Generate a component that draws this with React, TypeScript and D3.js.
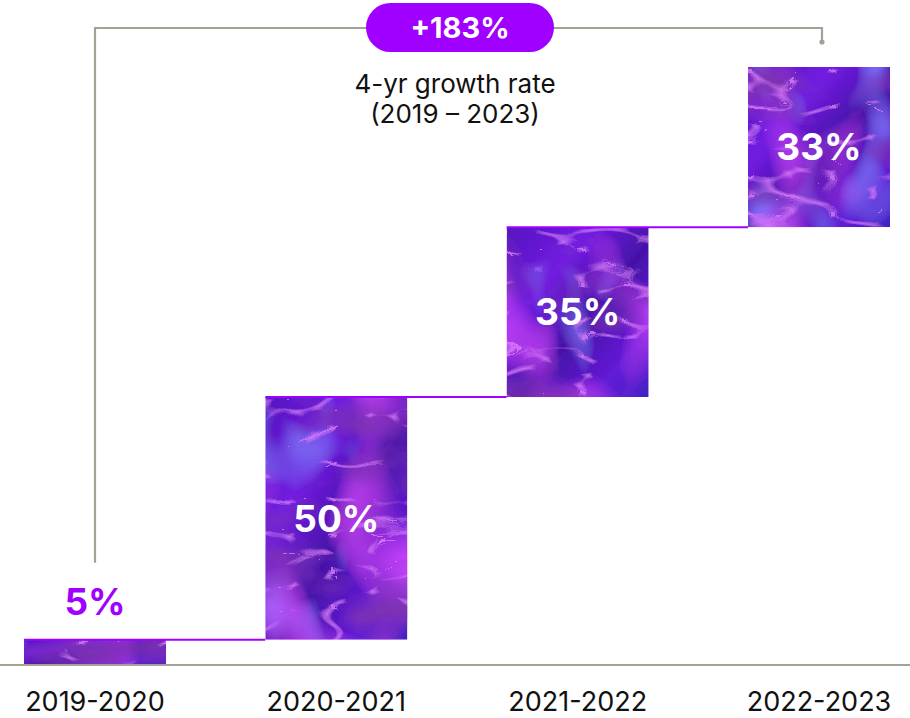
import * as d3 from 'd3';
import React from 'react';

const periods = ['2019-2020', '2020-2021', '2021-2022', '2022-2023'];
const growth = [5, 50, 35, 33];
const growthLabels = ['5%', '50%', '35%', '33%'];
const totalLabel = '+183%';
const noteLines = ['4-yr growth rate', '(2019 – 2023)'];

const W = 910;
const H = 718;
const baseY = 664;
const topY = 67;
const purple = '#a000ff';
const grey = '#a2a297';
const font = 'Inter, "Noto Sans", sans-serif';

const App: React.FC = () => {
  // running totals for the waterfall
  const ends = d3.cumsum(growth);
  const starts = ends.map((e, i) => e - growth[i]);

  const x = d3.scaleBand<string>()
    .domain(periods)
    .range([24, 890])
    .paddingInner(0.4115)
    .paddingOuter(0);

  const y = d3.scaleLinear()
    .domain([0, d3.sum(growth)])
    .range([baseY, topY]);

  const bw = x.bandwidth();
  const cx = (i: number) => (x(periods[i]) as number) + bw / 2;

  const leftX = cx(0);
  const rightX = cx(periods.length - 1) + 3;
  const bracketY = 28;
  const bracketBottom = y(ends[0]) - 77;

  const connectors = growth.slice(0, -1).map((_, i) => ({
    x1: x(periods[i]) as number,
    x2: x(periods[i + 1]) as number,
    y: y(ends[i]),
  }));

  return (
    <svg width={W} height={H} style={{ position: 'absolute', left: 0, top: 0 }}>
      <defs>
        <linearGradient id="silkBase" x1="0" y1="0" x2="1" y2="1">
          <stop offset="0" stopColor="#5414c0" />
          <stop offset="0.3" stopColor="#721ce0" />
          <stop offset="0.55" stopColor="#4511a8" />
          <stop offset="0.8" stopColor="#631ad6" />
          <stop offset="1" stopColor="#3f22c4" />
        </linearGradient>
        <filter id="silk" x="0" y="0" width="1" height="1">
          <feTurbulence type="fractalNoise" baseFrequency="0.009 0.016" numOctaves="3" seed="7" result="n" />
          <feColorMatrix in="n" type="matrix"
            values="0 0 0 0 0.2  0 0 0 0 0.03  0 0 0 0 0.45  -3.4 0 0 0 1.7" result="shade" />
          <feTurbulence type="fractalNoise" baseFrequency="0.012 0.008" numOctaves="2" seed="19" result="g" />
          <feColorMatrix in="g" type="matrix"
            values="0 0 0 0 0.64  0 0 0 0 0.06  0 0 0 0 1  3 0 0 0 -1.5" result="glow" />
          <feTurbulence type="turbulence" baseFrequency="0.012 0.028" numOctaves="2" seed="3" result="t" />
          <feColorMatrix in="t" type="matrix"
            values="0 0 0 0 0.72  0 0 0 0 0.2  0 0 0 0 1  -7 0 0 0 0.7" result="veins" />
          <feTurbulence type="fractalNoise" baseFrequency="0.02 0.012" numOctaves="2" seed="11" result="b" />
          <feColorMatrix in="b" type="matrix"
            values="0 0 0 0 0.2  0 0 0 0 0.14  0 0 0 0 0.9  0 0 -3.5 0 1.5" result="blue" />
          <feMerge result="m">
            <feMergeNode in="SourceGraphic" />
            <feMergeNode in="blue" />
            <feMergeNode in="glow" />
            <feMergeNode in="shade" />
            <feMergeNode in="veins" />
          </feMerge>
          <feComposite in="m" in2="SourceAlpha" operator="in" />
        </filter>
      </defs>

      {/* bracket for the total */}
      <path
        d={`M${leftX},${bracketBottom}V${bracketY}H${rightX}V${bracketY + 13}`}
        fill="none"
        stroke={grey}
        strokeWidth={2.2}
      />
      <circle cx={rightX} cy={bracketY + 14} r={2.6} fill={grey} />
      <rect x={366} y={3} width={188} height={49} rx={24.5} fill={purple} />
      <text x={460} y={38} textAnchor="middle" fill="#fff" fontFamily={font}
        fontWeight={700} fontSize={29}>{totalLabel}</text>
      {noteLines.map((t, i) => (
        <text key={t} x={455} y={93 + i * 30} textAnchor="middle" fill="#111"
          fontFamily={font} fontSize={26}>{t}</text>
      ))}

      {/* bars */}
      {growth.map((g, i) => (
        <rect
          key={periods[i]}
          x={x(periods[i])}
          y={y(ends[i])}
          width={bw}
          height={y(starts[i]) - y(ends[i])}
          fill="url(#silkBase)"
          filter="url(#silk)"
        />
      ))}

      {connectors.map((c, i) => (
        <line key={i} x1={c.x1} x2={c.x2} y1={c.y} y2={c.y} stroke={purple} strokeWidth={2} />
      ))}

      <line x1={0} x2={W} y1={baseY + 1} y2={baseY + 1} stroke={grey} strokeWidth={2.2} />

      {/* value labels */}
      {growth.map((g, i) => {
        const inside = i > 0;
        const ly = inside ? (y(ends[i]) + y(starts[i])) / 2 : y(ends[i]) - 38;
        return (
          <text key={`v${i}`} x={cx(i)} y={ly} dy="0.36em" textAnchor="middle"
            fill={inside ? '#fff' : purple} fontFamily={font} fontWeight={700}
            fontSize={37}>{growthLabels[i]}</text>
        );
      })}

      {/* category axis */}
      {periods.map((p, i) => (
        <text key={p} x={cx(i)} y={711} textAnchor="middle" fill="#111"
          fontFamily={font} fontSize={27}>{p}</text>
      ))}
    </svg>
  );
};

export default App;
